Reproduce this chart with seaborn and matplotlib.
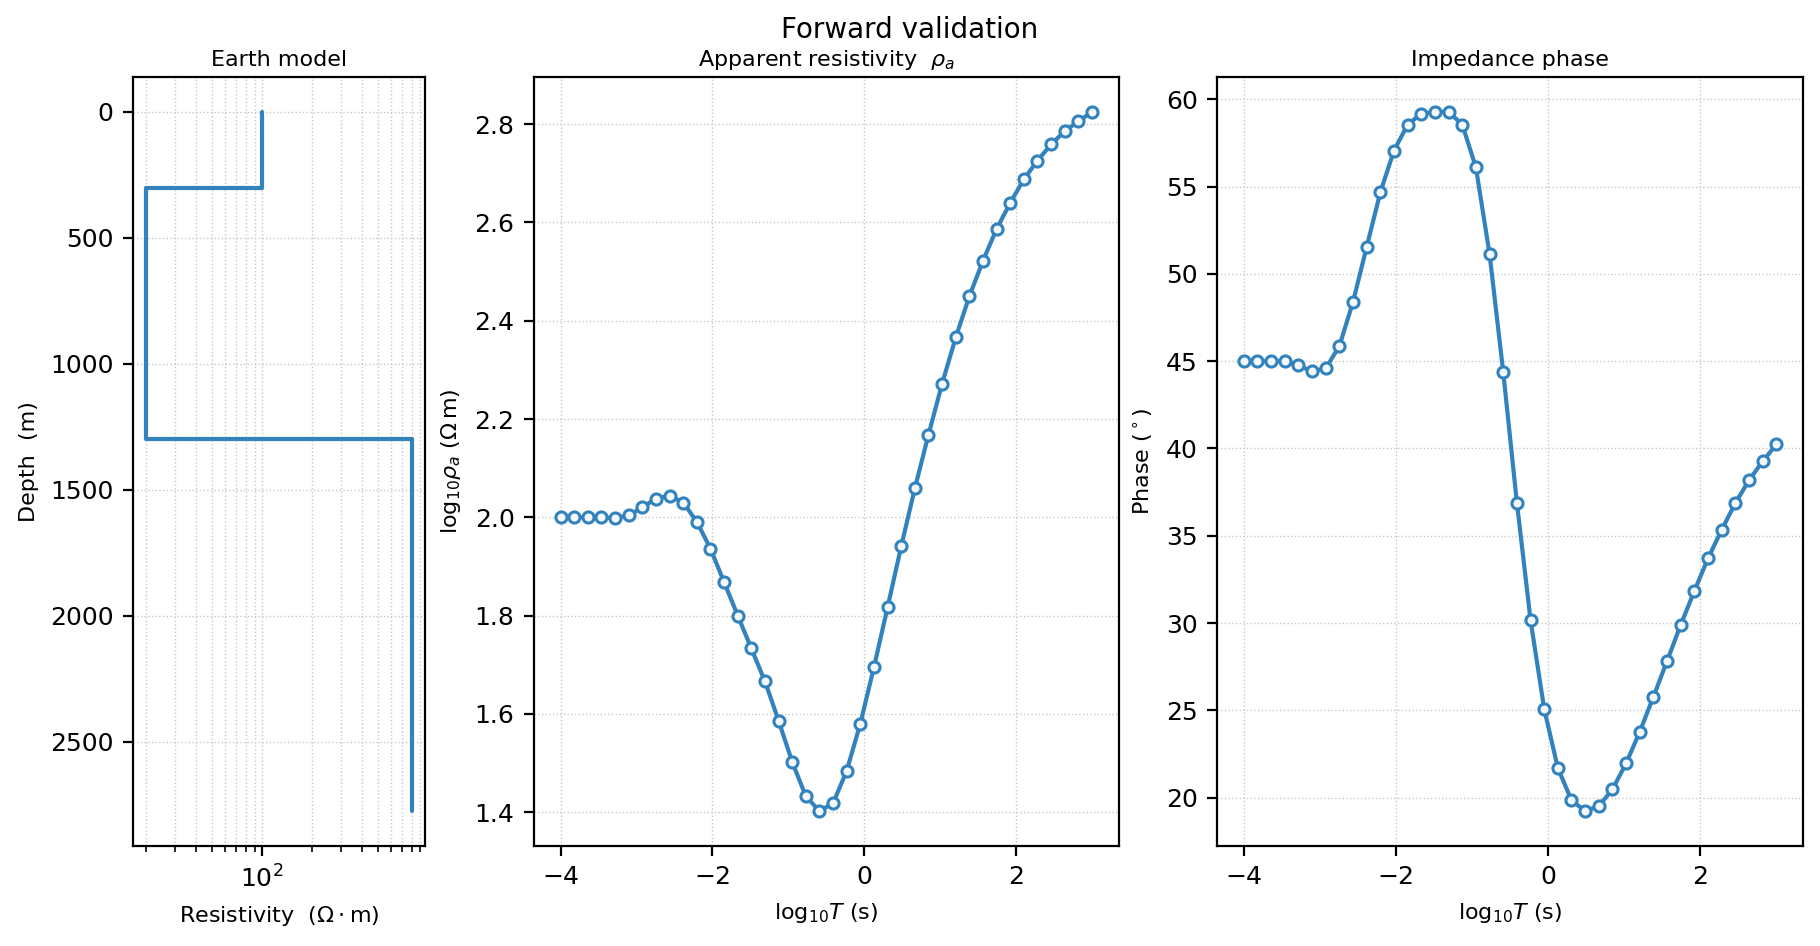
import numpy as np
import pandas as pd
import seaborn as sns
import matplotlib.pyplot as plt

# layered earth model
layer_top = [0, 300, 1300]
layer_bottom = [300, 1300, 2775]
layer_res = [100, 20, 800]

# forward response, 40 periods from 1e-4 to 1e3 s
log_period = np.linspace(-4, 3, 40)
log_rho = [2.000, 2.000, 2.000, 2.000, 1.998, 2.004, 2.020, 2.038, 2.044, 2.030,
           1.991, 1.936, 1.868, 1.800, 1.733, 1.666, 1.586, 1.502, 1.432, 1.402,
           1.418, 1.484, 1.580, 1.695, 1.817, 1.941, 2.059, 2.168, 2.272, 2.366,
           2.450, 2.522, 2.587, 2.640, 2.688, 2.726, 2.759, 2.786, 2.806, 2.825]
phase = [45.00, 45.00, 45.00, 45.00, 44.76, 44.41, 44.59, 45.87, 48.40, 51.55,
         54.67, 57.06, 58.55, 59.17, 59.27, 59.27, 58.55, 56.09, 51.13, 44.38,
         36.90, 30.18, 25.09, 21.70, 19.86, 19.24, 19.52, 20.48, 21.97, 23.78,
         25.78, 27.83, 29.90, 31.84, 33.71, 35.34, 36.87, 38.18, 39.26, 40.23]

color = "#3182bd"

sns.set_style("ticks")
plt.rcParams["font.family"] = ["DejaVu Sans"]
plt.rcParams.update({
    "axes.edgecolor": "black", "text.color": "black", "axes.labelcolor": "black",
    "xtick.color": "black", "ytick.color": "black",
    "xtick.labelsize": 9, "ytick.labelsize": 9,
    "axes.linewidth": 0.8,
})

# step profile from the layer table
prof_res, prof_depth = [], []
for top, bot, res in zip(layer_top, layer_bottom, layer_res):
    prof_res += [res, res]
    prof_depth += [top, bot]
model = pd.DataFrame({"res": prof_res, "depth": prof_depth})
resp = pd.DataFrame({"logT": log_period, "logrho": log_rho, "phase": phase})

fig, axes = plt.subplots(1, 3, figsize=(9.1, 4.73), dpi=200)
ax1, ax2, ax3 = axes
ax1.set_position([0.0731, 0.1057, 0.1604, 0.8129])
ax2.set_position([0.2934, 0.1057, 0.3212, 0.8129])
ax3.set_position([0.6688, 0.1057, 0.3218, 0.8129])

grid_kw = dict(ls=":", lw=0.5, color="0.78")
mk = dict(marker="o", markersize=4, markerfacecolor="#f4f8fc",
          markeredgecolor=color, markeredgewidth=1.1)

# Earth model
sns.lineplot(data=model, x="res", y="depth", sort=False, estimator=None,
             color=color, lw=1.5, ax=ax1)
ax1.set_xscale("log")
ax1.invert_yaxis()
ax1.set_title("Earth model", fontsize=8, pad=4)
ax1.set_xlabel(r"Resistivity  ($\Omega\cdot$m)", fontsize=8)
ax1.set_ylabel("Depth  (m)", fontsize=8)
ax1.grid(True, which="both", axis="x", **grid_kw)
ax1.grid(True, which="major", axis="y", **grid_kw)

# apparent resistivity
sns.lineplot(data=resp, x="logT", y="logrho", color=color, lw=1.5, ax=ax2, **mk)
ax2.set_title(r"Apparent resistivity  $\rho_a$", fontsize=8, pad=4)
ax2.set_xlabel(r"log$_{10}T$ (s)", fontsize=8)
ax2.set_ylabel(r"log$_{10}\rho_a$ ($\Omega\,$m)", fontsize=8)
ax2.grid(True, **grid_kw)

# impedance phase
sns.lineplot(data=resp, x="logT", y="phase", color=color, lw=1.5, ax=ax3, **mk)
ax3.set_title("Impedance phase", fontsize=8, pad=4)
ax3.set_xlabel(r"log$_{10}T$ (s)", fontsize=8)
ax3.set_ylabel(r"Phase ($^\circ$)", fontsize=8)
ax3.grid(True, **grid_kw)

fig.suptitle("Forward validation", fontsize=10, y=0.983)

plt.savefig("out.png", dpi=200)
